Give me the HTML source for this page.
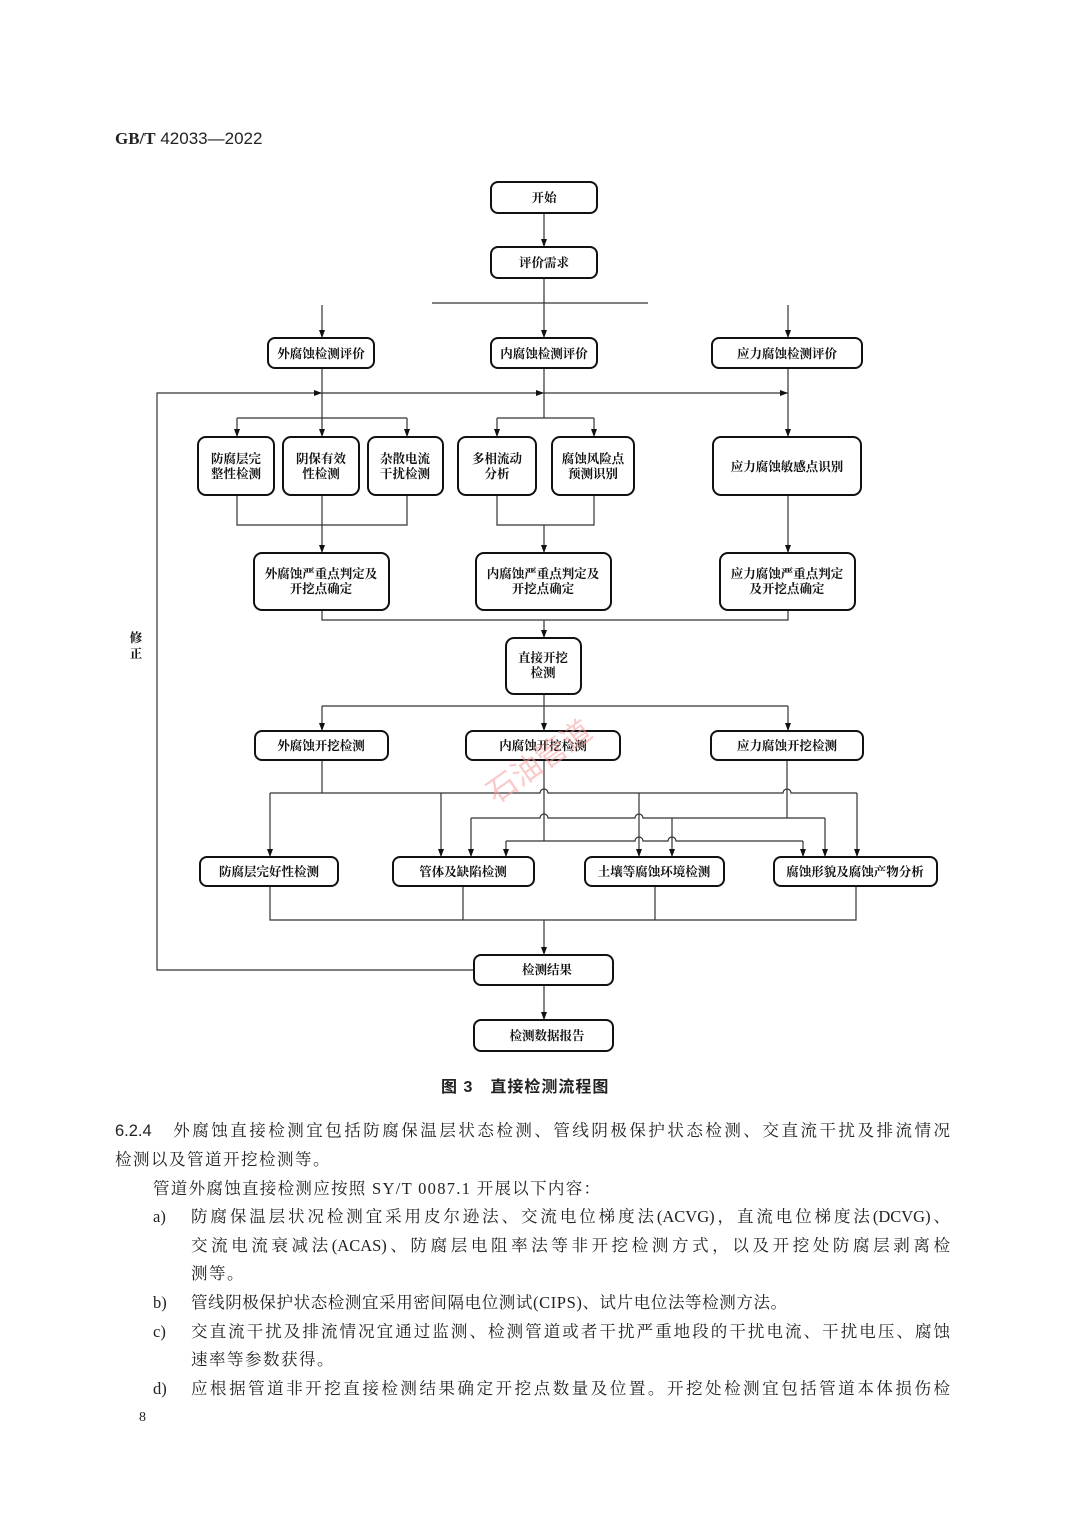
<!DOCTYPE html>
<html><head><meta charset="utf-8">
<style>
html,body{margin:0;padding:0;background:#fff;}
body{width:1080px;height:1525px;position:relative;overflow:hidden;font-family:"Liberation Serif","Noto Serif CJK SC",serif;color:#222;}
.t{position:absolute;font-size:16.5px;line-height:20px;white-space:nowrap;}
.j{text-align:justify;text-align-last:justify;white-space:normal;height:20px;overflow:hidden;}
svg text{font-family:"Liberation Serif","Noto Serif CJK SC",serif;font-size:12.5px;fill:#111;text-anchor:middle;font-weight:bold;}
</style></head><body>
<div class="t" style="left:115px;top:129px;font-family:'Liberation Sans','Noto Sans CJK SC',sans-serif;font-size:17px;"><b style="font-family:'Liberation Serif',serif">GB/T</b> 42033—2022</div>

<svg width="1080" height="1525" style="position:absolute;left:0;top:0" xmlns="http://www.w3.org/2000/svg">
<defs><marker id="a" markerWidth="8" markerHeight="6" refX="8" refY="3" orient="auto" markerUnits="userSpaceOnUse" viewBox="0 0 8 6"><path d="M0,0 L8,3 L0,6z" fill="#111"/></marker>
<marker id="r" markerWidth="8" markerHeight="6" refX="8" refY="3" orient="auto" markerUnits="userSpaceOnUse" viewBox="0 0 8 6"><path d="M0,0 L8,3 L0,6z" fill="#111"/></marker></defs>
<g fill="none" stroke="#333" stroke-width="1.2">
<path d="M544 213V247" marker-end="url(#a)"/>
<path d="M544 278V303M432 303H648"/>
<path d="M322 305V338" marker-end="url(#a)"/>
<path d="M544 303V338" marker-end="url(#a)"/>
<path d="M788 305V338" marker-end="url(#a)"/>
<path d="M474 970H157V393H322" marker-end="url(#r)"/>
<path d="M322 393H544" marker-end="url(#r)"/>
<path d="M544 393H788" marker-end="url(#r)"/>
<path d="M322 368V437" marker-end="url(#a)"/>
<path d="M237 418H407"/>
<path d="M237 418V437" marker-end="url(#a)"/>
<path d="M407 418V437" marker-end="url(#a)"/>
<path d="M237 495V525H407V495"/>
<path d="M322 495V553" marker-end="url(#a)"/>
<path d="M544 368V418M497 418H594"/>
<path d="M497 418V437" marker-end="url(#a)"/>
<path d="M594 418V437" marker-end="url(#a)"/>
<path d="M497 495V525H594V495"/>
<path d="M544 525V553" marker-end="url(#a)"/>
<path d="M788 368V437" marker-end="url(#a)"/>
<path d="M788 495V553" marker-end="url(#a)"/>
<path d="M322 610V620H788V610"/>
<path d="M544 620V638" marker-end="url(#a)"/>
<path d="M544 694V706M322 706H788"/>
<path d="M322 706V731" marker-end="url(#a)"/>
<path d="M544 706V731" marker-end="url(#a)"/>
<path d="M788 706V731" marker-end="url(#a)"/>
<path d="M322 760V793"/>
<path d="M270 793H540a4 4 0 0 1 8 0H783a4 4 0 0 1 8 0H857"/>
<path d="M270 793V857" marker-end="url(#a)"/>
<path d="M441 793V857" marker-end="url(#a)"/>
<path d="M639 793V857" marker-end="url(#a)"/>
<path d="M857 793V857" marker-end="url(#a)"/>
<path d="M787 760V818"/>
<path d="M471 818H540a4 4 0 0 1 8 0H635a4 4 0 0 1 8 0H825"/>
<path d="M471 818V857" marker-end="url(#a)"/>
<path d="M672 818V857" marker-end="url(#a)"/>
<path d="M825 818V857" marker-end="url(#a)"/>
<path d="M544 760V841"/>
<path d="M506 841H635a4 4 0 0 1 8 0H668a4 4 0 0 1 8 0H803"/>
<path d="M506 841V857" marker-end="url(#a)"/>
<path d="M803 841V857" marker-end="url(#a)"/>
<path d="M270 886V920H856V886M463 886V920M655 886V920"/>
<path d="M544 920V955" marker-end="url(#a)"/>
<path d="M544 985V1020" marker-end="url(#a)"/>
</g>
<g fill="#fff" stroke="#111" stroke-width="2">
<rect x="491" y="182" width="106" height="31" rx="7"/>
<rect x="491" y="247" width="106" height="31" rx="7"/>
<rect x="268" y="338" width="106" height="30" rx="7"/>
<rect x="491" y="338" width="106" height="30" rx="7"/>
<rect x="712" y="338" width="150" height="30" rx="7"/>
<rect x="198" y="437" width="76" height="58" rx="8"/>
<rect x="283" y="437" width="76" height="58" rx="8"/>
<rect x="368" y="437" width="75" height="58" rx="8"/>
<rect x="458" y="437" width="78" height="58" rx="8"/>
<rect x="552" y="437" width="82" height="58" rx="8"/>
<rect x="713" y="437" width="148" height="58" rx="8"/>
<rect x="254" y="553" width="135" height="57" rx="8"/>
<rect x="476" y="553" width="135" height="57" rx="8"/>
<rect x="720" y="553" width="135" height="57" rx="8"/>
<rect x="506" y="638" width="75" height="56" rx="8"/>
<rect x="255" y="731" width="133" height="29" rx="7"/>
<rect x="466" y="731" width="154" height="29" rx="7"/>
<rect x="711" y="731" width="152" height="29" rx="7"/>
<rect x="200" y="857" width="138" height="29" rx="7"/>
<rect x="393" y="857" width="141" height="29" rx="7"/>
<rect x="585" y="857" width="139" height="29" rx="7"/>
<rect x="774" y="857" width="163" height="29" rx="7"/>
<rect x="474" y="955" width="139" height="30" rx="7"/>
<rect x="474" y="1020" width="139" height="31" rx="7"/>
</g>
<g>
<text x="544" y="202">开始</text>
<text x="544" y="267">评价需求</text>
<text x="321" y="358">外腐蚀检测评价</text>
<text x="544" y="358">内腐蚀检测评价</text>
<text x="787" y="358">应力腐蚀检测评价</text>
<text x="236" y="463">防腐层完</text><text x="236" y="478">整性检测</text>
<text x="321" y="463">阴保有效</text><text x="321" y="478">性检测</text>
<text x="405" y="463">杂散电流</text><text x="405" y="478">干扰检测</text>
<text x="497" y="463">多相流动</text><text x="497" y="478">分析</text>
<text x="593" y="463">腐蚀风险点</text><text x="593" y="478">预测识别</text>
<text x="787" y="471">应力腐蚀敏感点识别</text>
<text x="321" y="578">外腐蚀严重点判定及</text><text x="321" y="593">开挖点确定</text>
<text x="543" y="578">内腐蚀严重点判定及</text><text x="543" y="593">开挖点确定</text>
<text x="787" y="578">应力腐蚀严重点判定</text><text x="787" y="593">及开挖点确定</text>
<text x="543" y="662">直接开挖</text><text x="543" y="677">检测</text>
<text x="321" y="750">外腐蚀开挖检测</text>
<text x="543" y="750">内腐蚀开挖检测</text>
<text x="787" y="750">应力腐蚀开挖检测</text>
<text x="269" y="876">防腐层完好性检测</text>
<text x="463" y="876">管体及缺陷检测</text>
<text x="654" y="876">土壤等腐蚀环境检测</text>
<text x="855" y="876">腐蚀形貌及腐蚀产物分析</text>
<text x="547" y="974">检测结果</text>
<text x="547" y="1040">检测数据报告</text>
<text x="136" y="642">修</text><text x="136" y="658">正</text>
</g>
<text x="545" y="770" transform="rotate(-35 545 770)" style="font-family:'Liberation Sans','Noto Sans CJK SC',sans-serif;font-size:30px;fill:#f6a0a0;opacity:0.55;font-weight:normal">石油管道</text>
</svg>

<div class="t" style="left:441px;top:1078px;font-family:'Liberation Sans','Noto Sans CJK SC',sans-serif;font-weight:bold;font-size:16px;letter-spacing:1px">图 3　直接检测流程图</div>

<div class="t j" style="left:115px;top:1121px;width:835px"><span style="font-family:'Liberation Sans',sans-serif">6.2.4</span>　外腐蚀直接检测宜包括防腐保温层状态检测、管线阴极保护状态检测、交直流干扰及排流情况</div>
<div class="t" style="left:115px;top:1150px;letter-spacing:1.5px">检测以及管道开挖检测等。</div>
<div class="t" style="left:153px;top:1179px;letter-spacing:1.3px">管道外腐蚀直接检测应按照 SY/T 0087.1 开展以下内容：</div>
<div class="t" style="left:153px;top:1207px">a)</div>
<div class="t j" style="left:191px;top:1207px;width:759px">防腐保温层状况检测宜采用皮尔逊法、交流电位梯度法(ACVG)，直流电位梯度法(DCVG)、</div>
<div class="t j" style="left:191px;top:1236px;width:759px">交流电流衰减法(ACAS)、防腐层电阻率法等非开挖检测方式，以及开挖处防腐层剥离检</div>
<div class="t" style="left:191px;top:1264px;letter-spacing:1.5px">测等。</div>
<div class="t" style="left:153px;top:1293px">b)</div>
<div class="t" style="left:191px;top:1293px;letter-spacing:0.6px">管线阴极保护状态检测宜采用密间隔电位测试(CIPS)、试片电位法等检测方法。</div>
<div class="t" style="left:153px;top:1322px">c)</div>
<div class="t j" style="left:191px;top:1322px;width:759px">交直流干扰及排流情况宜通过监测、检测管道或者干扰严重地段的干扰电流、干扰电压、腐蚀</div>
<div class="t" style="left:191px;top:1350px;letter-spacing:1.5px">速率等参数获得。</div>
<div class="t" style="left:153px;top:1379px">d)</div>
<div class="t j" style="left:191px;top:1379px;width:759px">应根据管道非开挖直接检测结果确定开挖点数量及位置。开挖处检测宜包括管道本体损伤检</div>
<div class="t" style="left:139px;top:1408px;font-size:14px">8</div>
</body></html>
